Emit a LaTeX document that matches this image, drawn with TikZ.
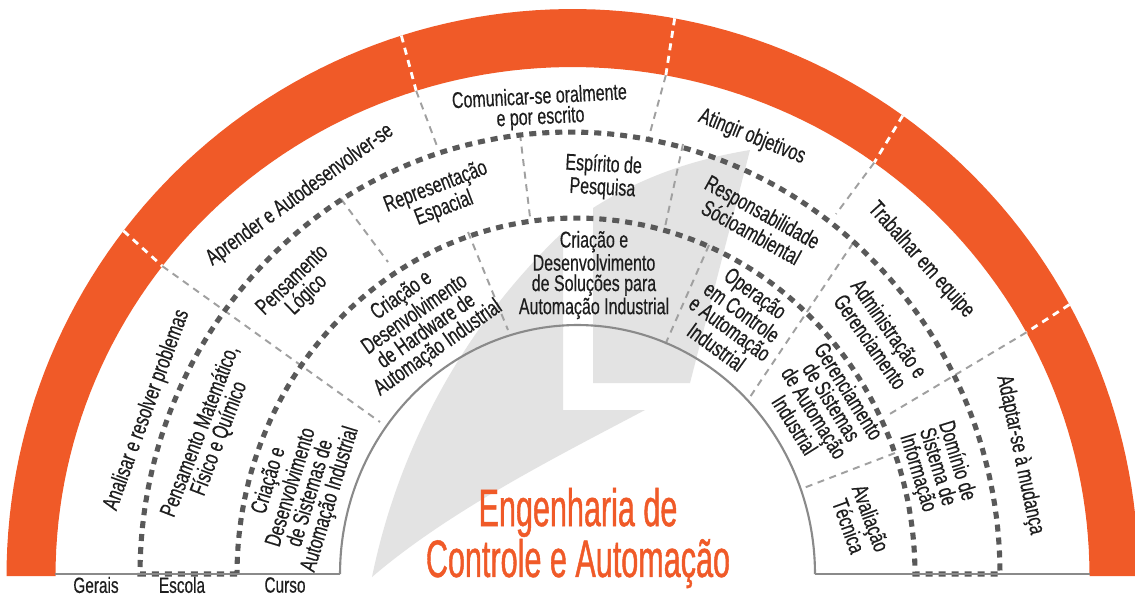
\documentclass[tikz,border=0pt]{standalone}
\usepackage{fontspec}
\setmainfont{Liberation Sans}[FakeStretch=0.70, FakeBold=0.4]
\newfontfamily\titlefont{Liberation Sans}[FakeStretch=0.58, FakeBold=0.8]
\usepackage{tikz}
\definecolor{ecaorange}{HTML}{F05A28}
\definecolor{ringgray}{HTML}{595959}
\definecolor{sepgray}{HTML}{A0A0A0}
\definecolor{leafgray}{HTML}{E3E3E3}
\definecolor{arcgray}{HTML}{8A8A8A}
\definecolor{txtblack}{HTML}{1E1E1E}
\newcommand\lblfont{\fontsize{13}{11.6}\selectfont}
\tikzset{
	ring/.style     = {draw=ringgray, line width=2.9pt, dash pattern=on 4pt off 3.4pt},
	sep/.style      = {draw=sepgray, line width=1.1pt, dash pattern=on 4pt off 3.2pt},
	sepw/.style     = {draw=white, line width=1.6pt, dash pattern=on 4pt off 3.2pt},
	lbl/.style      = {align=center, text=txtblack, font=\lblfont, inner sep=0pt},
	levellbl/.style = {text=txtblack, font=\fontsize{12.5}{12}\selectfont, inner sep=0pt},
	titlelbl/.style = {align=center, text=ecaorange, font=\titlefont\fontsize{30}{26.6}\selectfont, inner sep=0pt},
}

\begin{document}
\begin{tikzpicture}[x=0.02cm, y=-0.02cm]   %<--one unit is one pixel of the reference
    \clip (0,0) rectangle (1135,596);
    \fill[white] (0,0) rectangle (1135,596);

    %Drawing the gray leaves:
    \fill[leafgray] (372,577) .. controls (400,440) and (470,320) .. (563,232) -- (563,410)
        -- (645,410) .. controls (560,455) and (450,510) .. (372,577) -- cycle;
    \fill[leafgray] (593,383) -- (593,208) .. controls (640,178) and (690,160) .. (750,150)
        -- (690,383) -- cycle;

    %Drawing the orange band:
    \fill[ecaorange] (6.5,576) -- plot[domain=0:180, samples=120] ({572.5-566*cos(\x)},{576-567*sin(\x)})
        -- (1089.5,576) -- plot[domain=0:180, samples=120] ({572.5+517*cos(\x)},{576-509*sin(\x)}) -- cycle;

    %Drawing the separators:
    \foreach \a in {142.5,107.6,79.6,54.3,28.6}
        \draw[sepw] ({572.5+566*cos(\a)},{576-567*sin(\a)}) -- ({572.5+517*cos(\a)},{576-509*sin(\a)});
    \foreach \a/\ex/\ey in {142.5/380/422, 107.6/437/146, 79.6/648/140, 54.3/836/214, 28.6/888/415}
        \draw[sep] ({572.5+517*cos(\a)},{576-509*sin(\a)}) -- (\ex,\ey);
    \draw[sep] (341,199) -- (388,262);
    \draw[sep] (520,134) -- (530,217);
    \draw[sep] (683,144) -- (665,227);
    \draw[sep] (853,243) -- (748,400);
    \draw[sep] (468,232) -- (508,330);
    \draw[sep] (709,245) -- (665,345);
    \draw[sep] (895,453) -- (801,489);

    %Drawing the dotted rings:
    \draw[ring] (237,574) -- (140,574)
        -- plot[domain=0:180, samples=120] ({570-430*cos(\x)},{574-442*sin(\x)})
        -- (915,574)
        -- plot[domain=0:180, samples=120] ({576+339*cos(\x)},{574-356*sin(\x)});

    %Drawing the inner arc and the base line:
    \draw[arcgray, line width=1.2pt] plot[domain=0:180, samples=120] ({577.5-237.5*cos(\x)},{574-249*sin(\x)});
    \draw[arcgray, line width=1.2pt] (55,574) -- (340,574);
    \draw[arcgray, line width=1.2pt] (815,574) -- (1090,574);

    \draw%-----------------------------------------------------------------------------------------
        %Gerais:
        node(analisar) at (147,410) [lbl, rotate=70] {Analisar e resolver problemas}
        node(aprender) at (300,195) [lbl, rotate=36] {Aprender e Autodesenvolver-se}
        node(comunicar) at (540,108) [lbl, rotate=3] {Comunicar-se oralmente\\e por escrito}
        node(atingir) at (752,137) [lbl, rotate=-22] {Atingir objetivos}
        node(trabalhar) at (921,260) [lbl, rotate=-48] {Trabalhar em equipe}
        node(adaptar) at (1020,455) [lbl, rotate=-78] {Adaptar-se à mudança}
        %Escola:
        node(matematico) at (210,435) [lbl, rotate=69] {Pensamento Matemático,\\Físico e Químico}
        node(logico) at (300,288) [lbl, rotate=44] {Pensamento\\Lógico}
        node(espacial) at (440,198) [lbl, rotate=21] {Representação\\Espacial}
        node(pesquisa) at (603,177) [lbl, rotate=-3] {Espírito de\\Pesquisa}
        node(socio) at (757,222) [lbl, rotate=-29] {Responsabilidade\\Sócioambiental}
        node(admin) at (880,335) [lbl, rotate=-55] {Administração e\\Gerenciamento}
        node(dominio) at (937,467) [lbl, rotate=-73] {Domínio de\\Sistema de\\Informação}
        %Curso:
        node(sistemas) at (300,490) [lbl, rotate=73] {Criação e\\Desenvolvimento\\de Sistemas de\\Automação Industrial}
        node(hardware) at (420,322) [lbl, rotate=35] {Criação e\\Desenvolvimento\\de Hardware de\\Automação Industrial}
        node(solucoes) at (594,275) [lbl] {Criação e\\Desenvolvimento\\de Soluções para\\Automação Industrial}
        node(operacao) at (736,320) [lbl, rotate=-36] {Operação\\em Controle\\e Automação\\Industrial}
        node(gerenc) at (822,408) [lbl, rotate=-58] {Gerenciamento\\de Sistemas\\de Automação\\Industrial}
        node(avaliacao) at (860,522) [lbl, rotate=-70] {Avaliação\\Técnica}
        %Levels and title:
        node(gerais) at (96,585) [levellbl] {Gerais}
        node(escola) at (182,585) [levellbl] {Escola}
        node(curso) at (285,585) [levellbl] {Curso}
        node(title) at (578,538) [titlelbl] {Engenharia de\\Controle e Automação}
    ;%---------------------------------------------------------------------------------------------
\end{tikzpicture}
\end{document}
